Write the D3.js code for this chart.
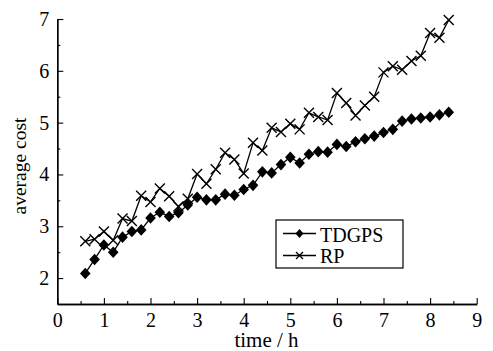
<!DOCTYPE html>
<html><head><meta charset="utf-8">
<script src="https://cdn.jsdelivr.net/npm/d3@7/dist/d3.min.js"></script>
<style>body{margin:0;background:#fff}svg{display:block}svg text{font-family:"Liberation Serif";}</style>
</head><body>
<svg id="c" width="493" height="351"></svg>
<script>
const times = [0.6,0.8,1.0,1.2,1.4,1.6,1.8,2.0,2.2,2.4,2.6,2.8,3.0,3.2,3.4,3.6,3.8,4.0,4.2,4.4,4.6,4.8,5.0,5.2,5.4,5.6,5.8,6.0,6.2,6.4,6.6,6.8,7.0,7.2,7.4,7.6,7.8,8.0,8.2,8.4];
const tdgps = [2.09,2.36,2.64,2.50,2.79,2.90,2.93,3.16,3.27,3.19,3.26,3.41,3.56,3.51,3.51,3.62,3.60,3.71,3.79,4.05,4.03,4.19,4.33,4.22,4.39,4.44,4.43,4.58,4.54,4.63,4.69,4.74,4.81,4.87,5.03,5.07,5.09,5.11,5.15,5.20];
const rp = [2.71,2.75,2.90,2.73,3.15,3.10,3.59,3.47,3.73,3.58,3.38,3.53,4.01,3.82,4.10,4.42,4.29,4.02,4.61,4.46,4.90,4.82,4.98,4.87,5.19,5.11,5.05,5.57,5.38,5.14,5.33,5.50,5.97,6.09,6.02,6.19,6.29,6.73,6.64,6.98];
const xTicks = [0,1,2,3,4,5,6,7,8,9];
const xMinor = [0.5,1.5,2.5,3.5,4.5,5.5,6.5,7.5,8.5];
const yTicks = [2,3,4,5,6,7];
const yMinor = [2.5,3.5,4.5,5.5,6.5];
const seriesNames = ["TDGPS","RP"];

const font = '"Liberation Serif"';
const svg = d3.select("#c");
const x = d3.scaleLinear().domain([0,9]).range([57.3,476.7]);
const y = d3.scaleLinear().domain([1.5,7]).range([304,19]);

function styleAxis(g){
  g.attr("font-family",null).attr("font-size",null);
  g.selectAll("path.domain").attr("stroke","#000").attr("stroke-width",1.3);
  g.selectAll(".tick line").attr("stroke","#000").attr("stroke-width",1.1);
  g.selectAll("text").style("font-family",font).style("font-size","20px").attr("fill","#000");
}
const gx = svg.append("g").attr("transform","translate(0,304)")
  .call(d3.axisBottom(x).tickValues(xTicks).tickSize(-6).tickSizeOuter(0).tickPadding(9).tickFormat(d3.format("d")));
styleAxis(gx);
const gxm = svg.append("g").attr("transform","translate(0,304)")
  .call(d3.axisBottom(x).tickValues(xMinor).tickSize(-3).tickSizeOuter(0).tickFormat(""));
styleAxis(gxm);
const gy = svg.append("g").attr("transform","translate(57.3,0)")
  .call(d3.axisLeft(y).tickValues(yTicks).tickSize(-6).tickSizeOuter(0).tickPadding(8).tickFormat(d3.format("d")));
styleAxis(gy);
const gym = svg.append("g").attr("transform","translate(57.3,0)")
  .call(d3.axisLeft(y).tickValues(yMinor).tickSize(-3).tickSizeOuter(0).tickFormat(""));
styleAxis(gym);

function txt(sel,size){ return sel.style("font-family",font).style("font-size",(size||20)+"px").attr("fill","#000"); }
txt(svg.append("text").attr("x",266.5).attr("y",346.5).attr("text-anchor","middle"),21).text("time / h");
txt(svg.append("text").attr("transform","translate(25.5,166) rotate(-90)").attr("text-anchor","middle"),19.5).text("average cost");

const line = d3.line().x((d,i)=>x(times[i])).y(d=>y(d));
svg.append("path").datum(rp).attr("d",line).attr("fill","none").attr("stroke","#000").attr("stroke-width",1.3);
svg.append("path").datum(tdgps).attr("d",line).attr("fill","none").attr("stroke","#000").attr("stroke-width",1.3);

function diamond(g,cx,cy,w,h){
  g.append("path").attr("d",`M${cx},${cy-h}L${cx+w},${cy}L${cx},${cy+h}L${cx-w},${cy}Z`).attr("fill","#000");
}
function cross(g,cx,cy,s){
  g.append("path").attr("d",`M${cx-s},${cy-s}L${cx+s},${cy+s}M${cx-s},${cy+s}L${cx+s},${cy-s}`)
   .attr("stroke","#000").attr("stroke-width",1.4).attr("fill","none");
}
const mk = svg.append("g");
rp.forEach((v,i)=>cross(mk,x(times[i]),y(v),5));
tdgps.forEach((v,i)=>diamond(mk,x(times[i]),y(v),5.3,5.8));

// legend
const lg = svg.append("g");
lg.append("rect").attr("x",276).attr("y",220).attr("width",127).attr("height",48)
  .attr("fill","#fff").attr("stroke","#000").attr("stroke-width",1.2);
lg.append("line").attr("x1",283).attr("x2",316).attr("y1",233.5).attr("y2",233.5).attr("stroke","#000").attr("stroke-width",1.3);
diamond(lg,299.5,233.5,4,4.5);
lg.append("line").attr("x1",283).attr("x2",316).attr("y1",255.5).attr("y2",255.5).attr("stroke","#000").attr("stroke-width",1.3);
cross(lg,299.5,255.5,3.5);
txt(lg.append("text").attr("x",320).attr("y",241.5)).text(seriesNames[0]);
txt(lg.append("text").attr("x",320).attr("y",262.5)).text(seriesNames[1]);
</script>
</body></html>
